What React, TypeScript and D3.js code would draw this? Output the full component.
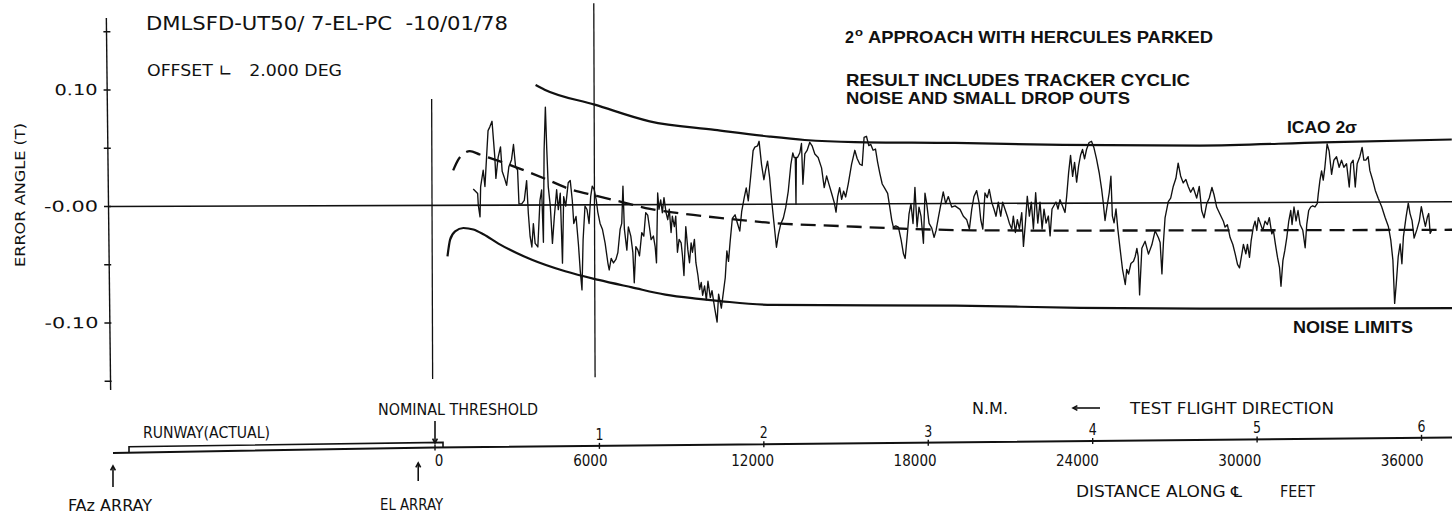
import React from 'react';
import * as d3 from 'd3';

const W = 1452;
const H = 516;

// ---------- data ----------
const NM_FT = 6076.1;
const nmTicks = [1, 2, 3, 4, 5, 6];
const feetTicks = [0, 6000, 12000, 18000, 24000, 30000, 36000];
const feetLabels = ['0', '6000', '12000', '18000', '24000', '30000', '36000'];
const yTicks = [-0.15, -0.1, -0.05, 0, 0.05, 0.1, 0.15];
const yLabelValues = [0.1, 0, -0.1];
const yLabels = ['0.10', '-0.00', '-0.10'];

// measured error angle along the approach: [distance ft, error deg]
const trace: [number, number][] = [
  [1415,0.014],[1578,0.010],[1600,0],[1663,-0.010],[1689,0.016],[1785,0.030],[1848,0.016],[1911,0.041],[1970,0.064],[2033,0.067],[2118,0.072],[2169,0.056],[2217,0.041],[2254,0.023],[2339,0.041],[2428,0.050],[2487,0.029],[2561,0.024],[2650,0.017],[2735,0.033],[2834,0.039],[2908,0.052],[2982,0.033],[3056,0.030],[3104,0.001],[3204,0.001],[3300,0.004],[3389,0.021],[3448,-0.007],[3511,-0.027],[3574,-0.036],[3633,-0.016],[3696,-0.033],[3795,-0.036],[3880,0.004],[3943,0.013],[4002,-0.032],[4039,0.047],[4091,0.084],[4139,0.047],[4187,0.016],[4261,-0.001],[4335,-0.033],[4409,-0.010],[4497,0.013],[4557,-0.004],[4630,0.010],[4704,-0.050],[4756,0.007],[4830,-0.001],[4926,0.019],[5000,0.021],[5074,0.004],[5126,-0.016],[5211,-0.010],[5296,-0.034],[5358,-0.056],[5421,-0.073],[5469,-0.030],[5543,-0.001],[5617,-0.004],[5691,-0.016],[5754,0.007],[5813,0.016],[5887,0.013],[5961,0.004],[6013,-0.006],[6098,-0.016],[6183,-0.021],[6282,-0.033],[6382,-0.050],[6430,-0.056],[6504,-0.046],[6589,-0.050],[6678,-0.047],[6752,-0.041],[6839,-0.021],[6899,-0.016],[6948,0.016],[6996,-0.021],[7084,-0.039],[7143,-0.019],[7232,-0.027],[7306,-0.041],[7354,-0.067],[7417,-0.036],[7491,-0.039],[7550,-0.044],[7638,-0.024],[7712,-0.027],[7786,-0.007],[7860,-0.009],[7920,-0.019],[7982,-0.030],[8067,-0.027],[8130,-0.036],[8178,-0.050],[8230,0.010],[8278,-0.004],[8341,0.004],[8400,-0.007],[8463,0.006],[8537,-0.007],[8599,-0.013],[8658,-0.004],[8721,-0.024],[8769,-0.010],[8843,-0.019],[8895,-0.010],[8954,-0.041],[9017,-0.030],[9091,-0.033],[9139,-0.044],[9191,-0.061],[9265,-0.019],[9339,-0.039],[9398,-0.050],[9460,-0.033],[9508,-0.041],[9582,-0.030],[9634,-0.050],[9708,-0.061],[9767,-0.073],[9830,-0.067],[9878,-0.078],[9952,-0.070],[10015,-0.082],
  [10078,-0.066],[10163,-0.080],[10225,-0.074],[10322,-0.089],[10410,-0.101],[10469,-0.077],[10569,-0.089],[10654,-0.074],[10717,-0.063],[10780,-0.040],[10839,-0.049],[10902,-0.032],[10987,-0.012],[11087,-0.009],[11171,-0.016],[11260,-0.023],[11334,-0.006],[11430,0.006],[11504,0.014],[11578,0.003],[11666,0.023],[11763,0.046],[11826,0.049],[11925,0.050],[11985,0.054],[12073,0.034],[12158,0.021],[12221,0.029],[12295,0.037],[12369,0.023],[12443,0.003],[12528,-0.017],[12613,-0.037],[12687,-0.026],[12775,-0.017],[12871,-0.012],[12960,-0.003],[13056,0.011],[13156,0.034],[13230,0.044],[13278,0.040],[13320,0.040],[13341,0.000],[13360,0.040],[13403,0.040],[13489,0.044],[13551,0.052],[13599,0.017],[13673,0.043],[13758,0.046],[13858,0.053],[13943,0.050],[14043,0.043],[14165,0.040],[14290,0.031],[14386,0.014],[14475,0.024],[14560,0.017],[14660,0.009],[14756,0.001],[14819,-0.007],[14881,0.006],[14955,0.014],[15029,0.004],[15103,0.011],[15177,0.006],[15273,0.017],[15399,0.034],[15521,0.046],[15606,0.039],[15706,0.034],[15791,0.033],[15865,0.057],[15953,0.058],[16038,0.050],[16112,0.051],[16197,0.046],[16286,0.047],[16360,0.036],[16445,0.026],[16530,0.017],[16630,0.013],[16729,0.009],[16788,0.000],[16877,-0.014],[16936,-0.020],[17025,-0.019],[17122,-0.020],[17221,-0.031],[17306,-0.043],[17368,-0.047],[17453,-0.026],[17515,-0.009],[17589,0.000],[17663,-0.017],[17738,0.014],[17812,-0.020],[17886,-0.003],[17960,-0.011],[18045,-0.034],[18108,0.009],[18171,0.000],[18256,-0.017],[18355,-0.021],[18440,-0.029],[18514,-0.023],[18600,-0.012],[18699,0.000],[18784,0.010],[18873,0.000],[18970,0.006],[19094,-0.003],
  [19217,-0.002],[19401,-0.005],[19524,-0.011],[19649,-0.014],[19745,-0.022],[19834,-0.005],[19919,0.006],[20019,0.011],[20104,0.001],[20167,-0.014],[20241,-0.022],[20325,0.009],[20410,0.005],[20484,0.012],[20573,0.001],[20658,-0.005],[20732,-0.011],[20817,0.001],[20905,-0.011],[20979,0.001],[21064,-0.005],[21149,-0.011],[21223,-0.017],[21312,-0.022],[21371,-0.011],[21445,-0.025],[21519,-0.014],[21593,-0.022],[21682,-0.008],[21741,-0.037],[21815,-0.017],[21889,0.006],[21963,-0.011],[22037,0.001],[22111,-0.022],[22199,0.009],[22273,-0.017],[22358,0.001],[22432,-0.022],[22506,-0.005],[22580,-0.017],[22665,-0.011],[22727,-0.028],[22801,-0.005],[22875,-0.002],[22949,0.001],[23023,-0.005],[23097,0.003],[23182,-0.002],[23282,-0.008],[23345,0.006],[23419,0.026],[23493,0.041],[23567,0.023],[23641,0.035],[23715,0.018],[23789,0.032],[23862,0.041],[23936,0.046],[24010,0.038],[24084,0.046],[24180,0.052],[24269,0.053],[24353,0.048],[24452,0.038],[24549,0.026],[24637,0.012],[24697,0.000],[24759,-0.015],[24822,-0.005],[24919,0.009],[24982,0.023],[25030,-0.011],[25092,-0.017],[25166,-0.005],[25229,-0.022],[25315,-0.040],
  [25399,-0.057],[25499,-0.070],[25554,-0.057],[25621,-0.061],[25710,-0.052],[25806,-0.050],[25869,-0.046],[25932,-0.039],[25980,-0.046],[26027,-0.079],[26116,-0.039],[26238,-0.033],[26360,-0.044],[26486,-0.036],[26608,-0.024],[26731,-0.030],[26792,-0.034],[26855,-0.061],[26914,-0.034],[26977,-0.013],[27099,0.001],[27188,0.004],[27284,0.014],[27384,0.021],[27469,0.034],[27558,0.023],[27654,0.017],[27753,0.020],[27838,0.014],[27927,0.009],
  [28023,0.013],[28149,0.004],[28245,0.014],[28333,-0.007],[28418,-0.013],[28518,-0.001],[28614,0.004],[28714,0.013],[28788,0.007],[28888,-0.004],[29009,-0.010],[29132,-0.016],[29194,-0.021],[29279,-0.019],[29379,-0.030],[29479,-0.036],[29564,-0.044],[29649,-0.053],[29723,-0.056],[29812,-0.044],[29870,-0.036],[29959,-0.044],[30019,-0.036],[30093,-0.047],[30155,-0.033],[30240,-0.021],[30303,-0.016],[30366,-0.024],[30425,-0.013],[30514,-0.019],[30588,-0.024],[30672,-0.016],[30757,-0.019],[30831,-0.013],[30920,-0.027],[30979,-0.024],[31053,-0.036],[31127,-0.047],[31201,-0.056],[31253,-0.072],[31327,-0.050],[31401,-0.041],[31475,-0.030],[31549,-0.016],[31623,-0.007],[31670,-0.019],[31744,-0.004],[31818,-0.016],[31892,-0.007],[31966,-0.019],[32066,-0.024],[32151,-0.039],[32213,-0.019],[32287,-0.007],[32361,-0.004],[32435,-0.003],[32520,-0.004],[32605,-0.001],[32642,0.007],[32707,0.019],[32768,0.027],[32828,0.019],[32890,0.030],[32975,0.050],[33049,0.044],[33137,0.024],[33223,0.036],[33322,0.039],[33418,0.030],[33507,0.036],[33592,0.030],[33692,0.033],[33788,0.013],[33851,0.033],[33936,0.036],[34010,0.013],[34084,0.033],[34183,0.039],[34268,0.047],[34331,0.036],[34405,0.036],[34490,0.039],[34553,0.027],[34653,0.019],[34750,0.010],[34860,0.003],[34985,-0.004],[35107,-0.013],[35229,-0.021],[35318,-0.033],[35392,-0.050],[35451,-0.087],[35514,-0.070],[35588,-0.047],[35662,-0.036],[35724,-0.053],[35783,-0.030],[35883,-0.013],[35968,-0.001],[36031,-0.010],[36105,-0.016],[36179,-0.031],[36279,-0.024],[36375,-0.016],[36449,-0.004],[36523,-0.013],[36597,-0.021],[36671,-0.013],[36722,-0.010],[36772,-0.027],[36833,-0.024],
];

// ICAO 2 sigma limit (upper) and noise limit (lower)
const icaoLimit: [number, number][] = [
  [3732,0.103],[4065,0.099],[5913,0.086],[7945,0.0715],[10347,0.064],[12380,0.058],[13673,0.055],[15521,0.053],[19217,0.052],[23208,0.050],[28270,0.049],[32816,0.0514],[37583,0.0535],
];
const noiseLimit: [number, number][] = [
  [455,-0.0438],[554,-0.0295],[739,-0.0224],[1046,-0.0195],[1415,-0.0209],[1785,-0.025],[2339,-0.033],[3574,-0.047],[4804,-0.057],[6035,-0.0645],[7269,-0.071],[8500,-0.0773],[9730,-0.081],[10532,-0.083],[12454,-0.0865],[19217,-0.0876],[23836,-0.0899],[28270,-0.091],[37583,-0.0913],
];
// mean error (dashed)
const meanError: [number, number][] = [
  [676,0.030],[861,0.039],[1046,0.044],[1293,0.0465],[1663,0.0435],[2882,0.0335],[4128,0.022],[4989,0.0135],[5976,0.0077],[6958,0.002],[7945,-0.0037],[9176,-0.008],[10902,-0.0125],[12380,-0.016],[14967,-0.019],[19882,-0.023],[24575,-0.0236],[37583,-0.024],
];

// vertical reference lines: [distance ft, top value, bottom value]
const referenceLines: [number, number, number][] = [
  [-110, 0.0914, -0.149],
  [5894, 0.173, -0.148],
];
const runwayFt = [-11308, 296];
const fazArrayFt = -11900;
const elArrayFt = -620;

// ---------- layout ----------
const x = d3.scaleLinear().domain([0, 36000]).range([435, 435 + 0.02706 * 36000]);
const y = d3.scaleLinear().domain([-0.1, 0.1]).range([323, 90]);
const axisLineY = d3.scaleLinear().domain([113, 435, 1452]).range([453, 447.5, 437.5]);

const plotter = "'Liberation Sans Narrow','DejaVu Sans Condensed','Roboto Condensed',sans-serif";
const helv = "'Liberation Sans',Arial,sans-serif";
const INK = '#111';

function Arrow({ x0, y0, x1, y1, head = 5 }: { x0: number; y0: number; x1: number; y1: number; head?: number }) {
  const a = Math.atan2(y1 - y0, x1 - x0);
  const h1 = [x1 - head * Math.cos(a - 0.5), y1 - head * Math.sin(a - 0.5)];
  const h2 = [x1 - head * Math.cos(a + 0.5), y1 - head * Math.sin(a + 0.5)];
  return (
    <g stroke={INK} strokeWidth={1.6} fill="none">
      <line x1={x0} y1={y0} x2={x1} y2={y1} />
      <path d={`M${h1[0]},${h1[1]} L${x1},${y1} L${h2[0]},${h2[1]}`} />
    </g>
  );
}

function PText(props: any) {
  const { children, len, size = 15, font = plotter, weight = 400, ...rest } = props;
  return (
    <text
      fontFamily={font}
      fontSize={size}
      fontWeight={weight}
      fill={INK}
      textLength={len}
      lengthAdjust="spacingAndGlyphs"
      style={{ whiteSpace: 'pre' }}
      {...rest}
    >
      {children}
    </text>
  );
}

export default function App() {
  const traceLine = d3.line<[number, number]>().x(d => x(d[0])).y(d => y(d[1]));
  const smooth = d3.line<[number, number]>().x(d => x(d[0])).y(d => y(d[1])).curve(d3.curveMonotoneX);

  const xLeft = 108;
  const xRight = W;

  const rwLeft = x(runwayFt[0]);
  const rwRight = x(runwayFt[1]);
  const runwayPath = `M${rwLeft},${axisLineY(rwLeft)} L${rwLeft},${axisLineY(rwLeft) - 6} L${rwRight},${axisLineY(rwRight) - 5} L${rwRight},${axisLineY(rwRight)}`;

  const fazX = x(fazArrayFt);
  const elX = x(elArrayFt);
  const thrX = x(0);

  return (
    <svg
      width={W}
      height={H}
      viewBox={`0 0 ${W} ${H}`}
      style={{ position: 'absolute', left: 0, top: 0, display: 'block', background: '#fff' }}
    >
      <rect x={0} y={0} width={W} height={H} fill="#fff" />

      {/* top-left plotter text */}
      <PText x={146} y={30} size={20} len={362}>{'DMLSFD-UT50/ 7-EL-PC  -10/01/78'}</PText>
      <PText x={147} y={76} size={16} len={195}>{'OFFSET ∟   2.000 DEG'}</PText>

      {/* y-axis title */}
      <PText transform="translate(25,195) rotate(-90)" textAnchor="middle" size={14} len={144}>
        {'ERROR ANGLE (T)'}
      </PText>

      {/* plot area (slightly rotated like the scan) */}
      <g transform="rotate(-0.2 108 206.5)">
        {/* y axis */}
        <path d={`M107,18 L110,390`} stroke={INK} strokeWidth={1.4} fill="none" />
        {yTicks.map(t => (
          <line key={t} x1={104} x2={111} y1={y(t)} y2={y(t)} stroke={INK} strokeWidth={1.3} />
        ))}
        {yLabelValues.map((v, i) => (
          <PText key={v} x={98} y={y(v) + 5} textAnchor="end" size={15} len={yLabels[i].length * 10.8}>
            {yLabels[i]}
          </PText>
        ))}

        {/* zero line */}
        <line x1={xLeft} x2={xRight} y1={y(0)} y2={y(0)} stroke={INK} strokeWidth={1.6} />

        {/* vertical reference lines */}
        {referenceLines.map(([ft, top, bot]) => (
          <line key={ft} x1={x(ft)} x2={x(ft)} y1={y(top)} y2={y(bot)} stroke={INK} strokeWidth={1.3} />
        ))}

        {/* limits */}
        <path d={smooth(icaoLimit) || ''} fill="none" stroke={INK} strokeWidth={2.2} />
        <path d={smooth(noiseLimit) || ''} fill="none" stroke={INK} strokeWidth={2.2} />
        <path d={smooth(meanError) || ''} fill="none" stroke={INK} strokeWidth={2.3} strokeDasharray="15 8" />

        {/* error trace */}
        <path d={traceLine(trace) || ''} fill="none" stroke={INK} strokeWidth={1.35} strokeLinejoin="round" />
      </g>

      {/* annotations */}
      <PText x={845} y={43} size={17} font={helv} weight={700} len={9}>2</PText>
      <PText x={855} y={36} size={11} font={helv} weight={700} len={8}>o</PText>
      <PText x={868} y={43} size={17} font={helv} weight={700} len={345}>APPROACH WITH HERCULES PARKED</PText>
      <PText x={846} y={86} size={17} font={helv} weight={700} len={344}>RESULT INCLUDES TRACKER CYCLIC</PText>
      <PText x={846} y={104} size={17} font={helv} weight={700} len={284}>NOISE AND SMALL DROP OUTS</PText>
      <PText x={1287} y={133} size={16} font={helv} weight={700} len={70}>ICAO 2σ</PText>
      <PText x={1293} y={333} size={16} font={helv} weight={700} len={120}>NOISE LIMITS</PText>

      {/* bottom distance axis */}
      <path
        d={`M113,${axisLineY(113)} L${thrX},${axisLineY(thrX)} L${W},${axisLineY(W)}`}
        stroke={INK}
        strokeWidth={2}
        fill="none"
      />
      <path d={runwayPath} stroke={INK} strokeWidth={1.6} fill="none" />
      {[0, ...nmTicks].map(n => {
        const px = x(n * NM_FT);
        const ly = axisLineY(px);
        return (
          <g key={n}>
            <line x1={px} x2={px} y1={ly - 3} y2={ly + 3} stroke={INK} strokeWidth={1.4} />
            {n > 0 && (
              <PText x={px} y={ly - 6} textAnchor="middle" size={15} len={8}>
                {String(n)}
              </PText>
            )}
          </g>
        );
      })}
      {feetTicks.map((ft, i) => (
        <PText key={ft} x={x(ft) - 7 + (ft === 0 ? 11 : 0)} y={466} textAnchor="middle" size={15} len={feetLabels[i].length * 8.6}>
          {feetLabels[i]}
        </PText>
      ))}

      <PText x={378} y={415} size={15} len={160}>NOMINAL THRESHOLD</PText>
      <Arrow x0={thrX} y0={421} x1={thrX} y1={443} />
      <PText x={143} y={438} size={15} len={127}>RUNWAY(ACTUAL)</PText>

      <Arrow x0={fazX} y0={487} x1={fazX} y1={466} />
      <PText x={68} y={511} size={15} len={84}>FAz ARRAY</PText>
      <Arrow x0={elX} y0={481} x1={elX} y1={463} />
      <PText x={380} y={510} size={15} len={63}>EL ARRAY</PText>

      <PText x={972} y={414} size={15} len={36}>N.M.</PText>
      <Arrow x0={1100} y0={408} x1={1073} y1={408} />
      <PText x={1130} y={414} size={15} len={204}>TEST FLIGHT DIRECTION</PText>
      <PText x={1076} y={497} size={15} len={166}>{'DISTANCE ALONG ℄'}</PText>
      <PText x={1280} y={497} size={15} len={35}>FEET</PText>
    </svg>
  );
}
